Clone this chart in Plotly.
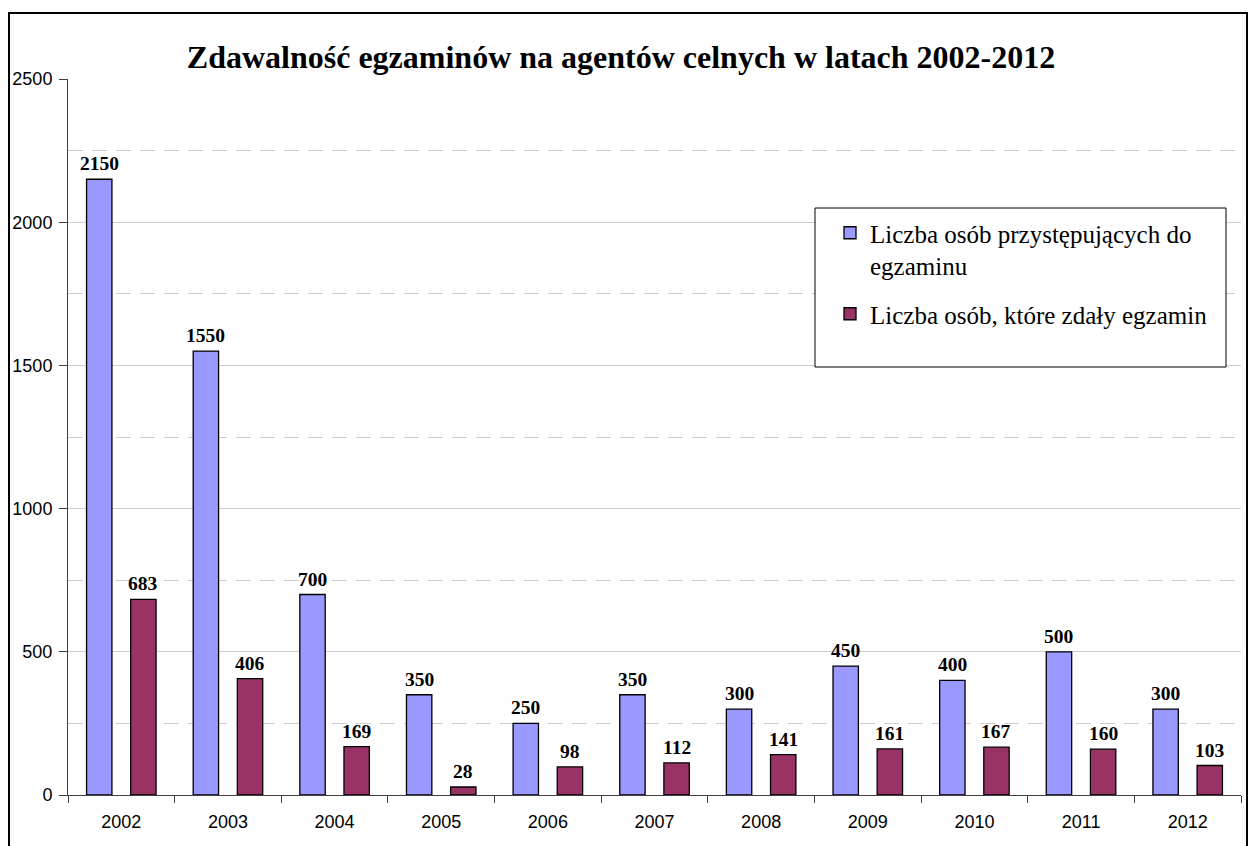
import plotly.graph_objects as go

# data
years = ['2002', '2003', '2004', '2005', '2006', '2007', '2008', '2009', '2010', '2011', '2012']
przystepujacy = [2150, 1550, 700, 350, 250, 350, 300, 450, 400, 500, 300]
zdali = [683, 406, 169, 28, 98, 112, 141, 161, 167, 160, 103]

name_1 = 'Liczba osób przystępujących do<br>egzaminu'
name_2 = 'Liczba osób, które zdały egzamin'

W, H = 1249, 846
L, R, T, B = 68, 8, 79, 51
pw, ph = W - L - R, H - T - B


def px_x(x):
    return (x - L) / pw


def px_y(y):
    return (H - B - y) / ph


bar_w = 0.238
off_1, off_2 = -0.326, 0.088

fig = go.Figure()
fig.add_trace(go.Bar(x=years, y=przystepujacy, name=name_1, width=bar_w, offset=off_1,
                     legendgroup='a',
                     marker=dict(color='#9999FF', line=dict(color='black', width=1.3))))
fig.add_trace(go.Bar(x=years, y=zdali, name=name_2, width=bar_w, offset=off_2,
                     legendgroup='b',
                     marker=dict(color='#993366', line=dict(color='black', width=1.3))))

# value labels above the bars (x given as category index, shifted to the bar centre)
label_font = dict(family='Liberation Serif', size=19.5, color='black', weight='bold')
for vals, off in [(przystepujacy, off_1), (zdali, off_2)]:
    for i, v in enumerate(vals):
        fig.add_annotation(x=i + off + bar_w / 2, y=v, xref='x', yref='y', text=str(v),
                           showarrow=False, xanchor='center', yanchor='bottom', yshift=3,
                           font=label_font)

fig.update_layout(
    width=W, height=H,
    margin=dict(l=L, r=R, t=T, b=B, autoexpand=False),
    paper_bgcolor='white', plot_bgcolor='white',
    barmode='group',
    title=dict(text='<b>Zdawalność egzaminów na agentów celnych w latach 2002-2012</b>',
               font=dict(family='Liberation Serif', size=32, color='black'),
               x=621 / W, xanchor='center', y=1 - 57 / H, yanchor='middle'),
    showlegend=True,
    legend=dict(x=px_x(830), y=px_y(210), xanchor='left', yanchor='top',
                bgcolor='rgba(0,0,0,0)', borderwidth=0, valign='top',
                font=dict(family='Liberation Serif', size=25, color='black'),
                tracegroupgap=13),
    font=dict(family='Liberation Sans', size=18, color='black'),
)

fig.update_yaxes(range=[0, 2500], dtick=500, showline=True, linecolor='#404040', linewidth=1,
                 ticks='outside', ticklen=8, tickcolor='#404040', ticklabelstandoff=3,
                 showgrid=True, gridcolor='#CCCCCC', gridwidth=1, zeroline=False,
                 minor=dict(dtick=250, showgrid=True, gridcolor='#CCCCCC', griddash='15px,9px'),
                 tickfont=dict(family='Liberation Sans', size=18, color='black'))
fig.update_xaxes(type='category', range=[-0.5, len(years) - 0.5], tickangle=0,
                 showline=True, linecolor='#404040', linewidth=1,
                 ticks='outside', ticklen=7, tickcolor='#404040', tickson='boundaries',
                 showgrid=False, ticklabelstandoff=10,
                 tickfont=dict(family='Liberation Sans', size=18, color='black'))

# legend box and outer frame
fig.add_shape(type='rect', xref='paper', yref='paper',
              x0=px_x(815), x1=px_x(1226), y0=px_y(367), y1=px_y(208),
              line=dict(color='black', width=1), fillcolor='white', layer='above')
fig.add_shape(type='rect', xref='paper', yref='paper',
              x0=px_x(9), x1=px_x(1247), y0=px_y(852), y1=px_y(13),
              line=dict(color='black', width=2), fillcolor='rgba(0,0,0,0)', layer='above')

fig.write_html("out.html", config={'displayModeBar': False},
               post_script="document.body.style.margin='0';")
